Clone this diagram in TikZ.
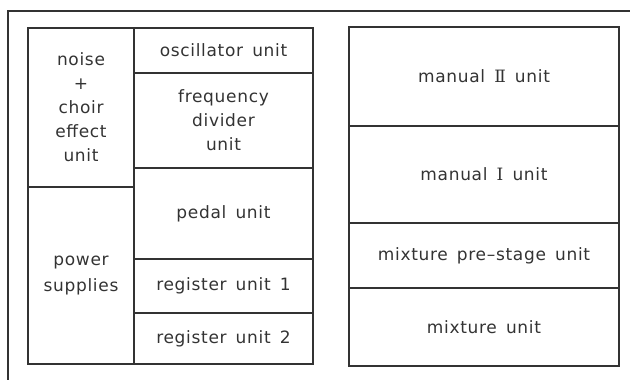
\documentclass[tikz,border=0pt]{standalone}
\usepackage{fontspec}
\setmainfont{DejaVu Sans}[LetterSpace=4, WordSpace=1.5]
\newfontfamily\romfont{DejaVu Serif}
\definecolor{linec}{HTML}{333333}
\definecolor{textc}{HTML}{333333}
\tikzset{
  cell/.style={draw=linec, line width=1.2pt, inner sep=0pt, align=center,
    text=textc, font=\fontsize{17}{24}\selectfont},
  frame/.style={draw=linec, line width=1.2pt}
}
\begin{document}
\begin{tikzpicture}[x=1pt, y=-1pt]
\useasboundingbox (0,0) rectangle (630,380);
% outer frame
\coordinate (fbl) at (8,382);
\coordinate (ftl) at (8,11);
\coordinate (ftr) at (632,11);
\draw[frame] (fbl) -- (ftl) -- (ftr);
% left block
\node[cell, minimum width=106pt, minimum height=159pt] (noise) at (81,107.5) {noise\\+\\choir\\effect\\unit};
\node[cell, minimum width=106pt, minimum height=177pt, font=\fontsize{17}{26}\selectfont] (power) at (81,275.5) {power\\supplies};
\node[cell, minimum width=179pt, minimum height=45pt] (osc) at (223.5,50.5) {oscillator unit};
\node[cell, minimum width=179pt, minimum height=95pt] (freq) at (223.5,120.5) {frequency\\divider\\unit};
\node[cell, minimum width=179pt, minimum height=91pt] (pedal) at (223.5,213.5) {pedal unit};
\node[cell, minimum width=179pt, minimum height=54pt] (reg1) at (223.5,286) {register unit 1};
\node[cell, minimum width=179pt, minimum height=51pt] (reg2) at (223.5,338.5) {register unit 2};
% right block
\node[cell, minimum width=270pt, minimum height=99pt] (man2) at (484,76.5) {manual {\romfont Ⅱ} unit};
\node[cell, minimum width=270pt, minimum height=97pt] (man1) at (484,174.5) {manual {\romfont Ⅰ} unit};
\node[cell, minimum width=270pt, minimum height=65pt] (mps) at (484,255.5) {mixture pre–stage unit};
\node[cell, minimum width=270pt, minimum height=78pt] (mix) at (484,327) {mixture unit};
\end{tikzpicture}
\end{document}
